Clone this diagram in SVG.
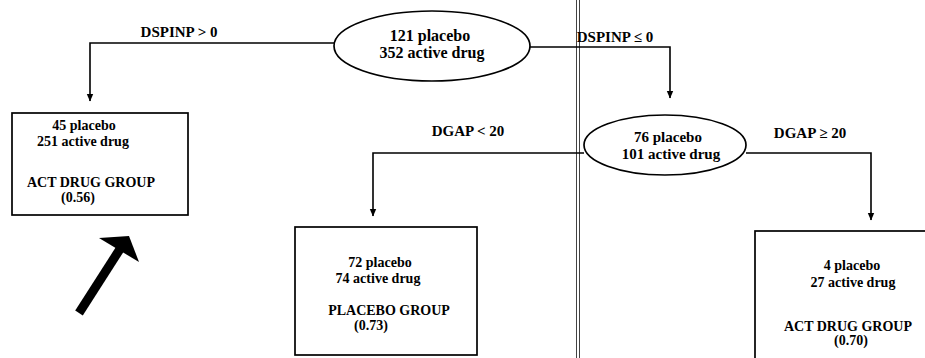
<svg xmlns="http://www.w3.org/2000/svg" width="925" height="358" viewBox="0 0 925 358">
<defs>
<style>
text{font-family:"Liberation Serif","Times New Roman","DejaVu Serif",serif;font-weight:bold;fill:#000;text-anchor:middle}
.lbl{font-size:15px}
.el{font-size:16px}
.t{font-size:14px}
.node{fill:#fff;stroke:#000;stroke-width:1.7}
.conn{fill:none;stroke:#000;stroke-width:1.6}
.sep{stroke:#444;stroke-width:1}
</style>
<marker id="ah" markerUnits="userSpaceOnUse" markerWidth="8" markerHeight="8" refX="7" refY="4" orient="auto">
<path d="M0,0.8 L7.5,4 L0,7.2 z" fill="#000"/>
</marker>
</defs>
<rect x="0" y="0" width="925" height="358" fill="#fff"/>
<g id="separator">
<line class="sep" x1="576.5" y1="0" x2="576.5" y2="358"/>
<line class="sep" x1="579.5" y1="0" x2="579.5" y2="358"/>
</g>
<g id="connectors">
<polyline class="conn" points="334,43 90,43 90,101" marker-end="url(#ah)"/>
<polyline class="conn" points="530,47 670,47 670,98" marker-end="url(#ah)"/>
<polyline class="conn" points="584,153 373,153 373,216" marker-end="url(#ah)"/>
<polyline class="conn" points="746,153 871,153 871,220" marker-end="url(#ah)"/>
<text class="lbl" x="179" y="37">DSPINP &gt; 0</text>
<text class="lbl" x="615" y="42">DSPINP ≤ 0</text>
<text class="lbl" x="468" y="136">DGAP &lt; 20</text>
<text class="lbl" x="810" y="138">DGAP ≥ 20</text>
</g>
<g id="root">
<ellipse class="node" cx="432" cy="46" rx="98" ry="35"/>
<text class="el" x="430" y="41">121 placebo</text>
<text class="el" x="432" y="58">352 active drug</text>
</g>
<g id="split2">
<ellipse class="node" cx="665" cy="145" rx="81" ry="30"/>
<text class="lbl" x="668" y="142">76 placebo</text>
<text class="lbl" x="671" y="159">101 active drug</text>
</g>
<g id="leaf1">
<rect class="node" x="12" y="113" width="176" height="102"/>
<text class="t" x="84" y="130">45 placebo</text>
<text class="t" x="83" y="146">251 active drug</text>
<text class="t" x="91" y="187">ACT DRUG GROUP</text>
<text class="t" x="78" y="202">(0.56)</text>
</g>
<g id="leaf2">
<rect class="node" x="295" y="227" width="182" height="128"/>
<text class="t" x="380" y="267">72 placebo</text>
<text class="t" x="378" y="283">74 active drug</text>
<text class="t" x="389" y="315">PLACEBO GROUP</text>
<text class="t" x="371" y="330">(0.73)</text>
</g>
<g id="leaf3">
<rect class="node" x="755" y="231" width="185" height="140"/>
<text class="t" x="852" y="270">4 placebo</text>
<text class="t" x="853" y="287">27 active drug</text>
<text class="t" x="848" y="331">ACT DRUG GROUP</text>
<text class="t" x="851" y="345">(0.70)</text>
</g>
<g id="pointer">
<line x1="79" y1="313" x2="120" y2="249" stroke="#000" stroke-width="9"/>
<polygon points="99,238 129,236 139,262" fill="#000"/>
</g>
</svg>
